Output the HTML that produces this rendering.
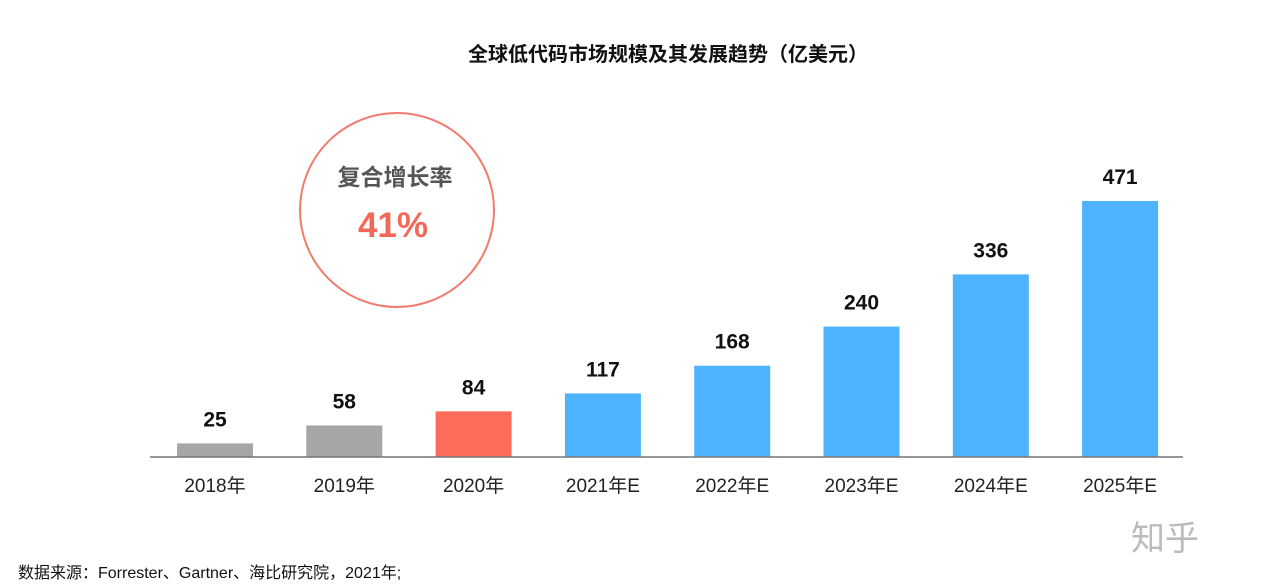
<!DOCTYPE html>
<html><head><meta charset="utf-8"><style>
body{margin:0;width:1271px;height:583px;background:#fff;overflow:hidden;font-family:"Liberation Sans","Noto Sans CJK SC",sans-serif;}
</style></head><body>
<svg width="1271" height="583" xmlns="http://www.w3.org/2000/svg">
<text x="668" y="61" text-anchor="middle" font-size="20" font-weight="bold" fill="#111" font-family="Liberation Sans, Noto Sans CJK SC, sans-serif">全球低代码市场规模及其发展趋势（亿美元）</text>
<circle cx="397" cy="210" r="97" fill="none" stroke="#f07b6c" stroke-width="2"/>
<text x="395" y="185" text-anchor="middle" font-size="23" font-weight="bold" fill="#555" font-family="Liberation Sans, Noto Sans CJK SC, sans-serif">复合增长率</text>
<text x="393" y="237" text-anchor="middle" font-size="35" font-weight="bold" fill="#f26a57" font-family="Liberation Sans, Noto Sans CJK SC, sans-serif">41%</text>
<g id="bars"></g>
<line x1="150" y1="457" x2="1183" y2="457" stroke="#777" stroke-width="1.5"/>
<text x="18" y="578" font-size="16" fill="#111" font-family="Liberation Sans, Noto Sans CJK SC, sans-serif">数据来源：Forrester、Gartner、海比研究院，2021年;</text>
<text x="1165" y="550" text-anchor="middle" font-size="34" fill="#bbb" font-family="Liberation Sans, Noto Sans CJK SC, sans-serif">知乎</text>
</svg>
<script>
const categories=["2018年","2019年","2020年","2021年E","2022年E","2023年E","2024年E","2025年E"];
const values=[25,58,84,117,168,240,336,471];
const kinds=["actual","actual","current","forecast","forecast","forecast","forecast","forecast"];
const colorMap={actual:"#a6a6a6",current:"#ff6b5b",forecast:"#4db3ff"};
const NS="http://www.w3.org/2000/svg";
const g=document.getElementById("bars");
const base=457, scale=256/471, x0=177, step=129.3, bw=76;
const y=v=>base-v*scale;
const x=i=>x0+i*step;
const ff="Liberation Sans, Noto Sans CJK SC, sans-serif";
categories.forEach((c,i)=>{
  const r=document.createElementNS(NS,"rect");
  r.setAttribute("x",x(i));r.setAttribute("y",y(values[i]));
  r.setAttribute("width",bw);r.setAttribute("height",base-y(values[i]));
  r.setAttribute("fill",colorMap[kinds[i]]);
  
  
  g.appendChild(r);
  const t=document.createElementNS(NS,"text");
  t.setAttribute("x",x(i)+bw/2);t.setAttribute("y",y(values[i])-17);
  t.setAttribute("text-anchor","middle");t.setAttribute("font-size","21");
  t.setAttribute("font-weight","bold");t.setAttribute("fill","#111");t.setAttribute("font-family",ff);
  t.textContent=values[i];
  
  
  g.appendChild(t);
  const l=document.createElementNS(NS,"text");
  l.setAttribute("x",x(i)+bw/2);l.setAttribute("y",492);
  l.setAttribute("text-anchor","middle");l.setAttribute("font-size","19");
  l.setAttribute("fill","#222");l.setAttribute("font-family",ff);
  l.textContent=c;
  
  
  g.appendChild(l);
});
</script>
</body></html>
